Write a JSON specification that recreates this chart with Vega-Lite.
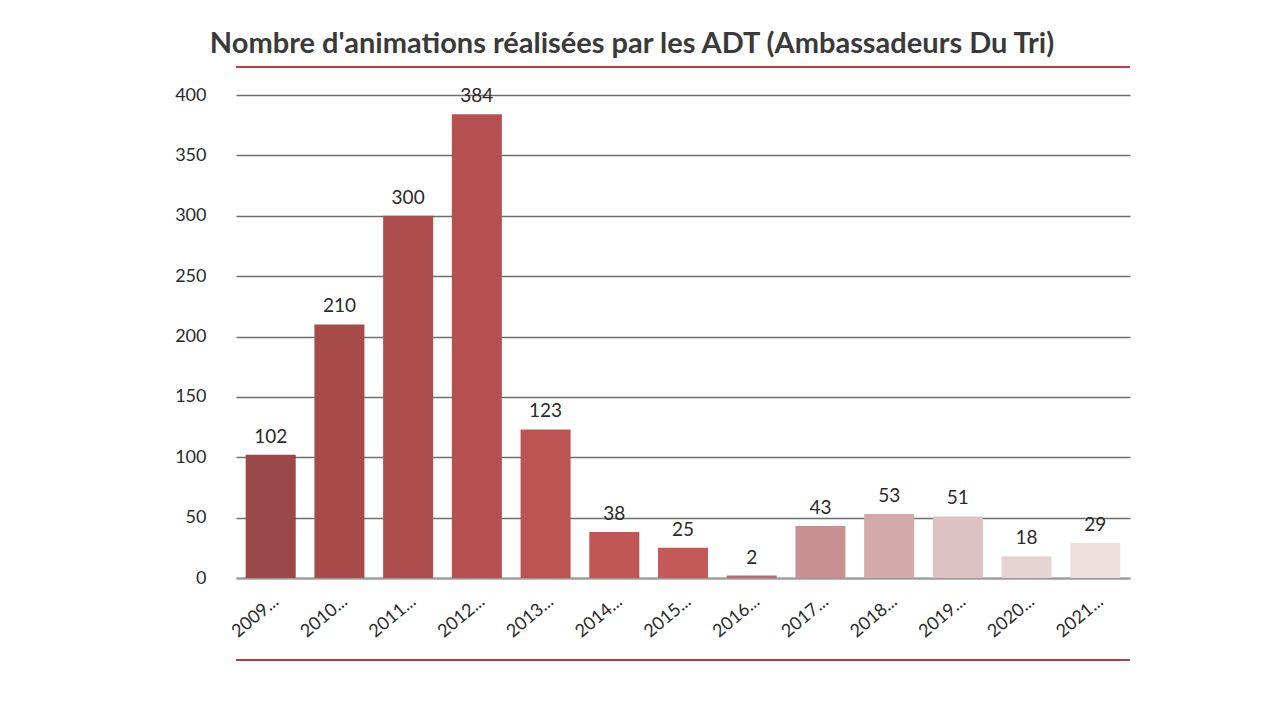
{
  "$schema": "https://vega.github.io/schema/vega-lite/v6.json",
  "width": 894,
  "height": 483,
  "autosize": {"type": "none"},
  "padding": {"left": 236, "top": 95, "right": 155, "bottom": 142},
  "background": "white",
  "title": {
    "text": "Nombre d'animations réalisées par les ADT (Ambassadeurs Du Tri)",
    "font": "Lato",
    "fontSize": 29,
    "fontWeight": "bold",
    "color": "#3a3a3a",
    "anchor": "middle",
    "offset": 7,
    "dx": -51
  },
  "config": {
    "view": {"stroke": null},
    "axis": {"labelFont": "Lato", "titleFont": "Lato"}
  },
  "data": {
    "values": [
      {"annee": "2009...", "n": 102},
      {"annee": "2010...", "n": 210},
      {"annee": "2011...", "n": 300},
      {"annee": "2012...", "n": 384},
      {"annee": "2013...", "n": 123},
      {"annee": "2014...", "n": 38},
      {"annee": "2015...", "n": 25},
      {"annee": "2016...", "n": 2},
      {"annee": "2017...", "n": 43},
      {"annee": "2018...", "n": 53},
      {"annee": "2019...", "n": 51},
      {"annee": "2020...", "n": 18},
      {"annee": "2021...", "n": 29}
    ]
  },
  "layer": [
    {
      "mark": {"type": "bar", "width": 50},
      "encoding": {
        "x": {
          "field": "annee",
          "type": "nominal",
          "sort": null,
          "scale": {"paddingInner": 0.27, "paddingOuter": 0.14},
          "axis": {
            "title": null,
            "labelAngle": -40,
            "labelFontSize": 18,
            "labelColor": "#2a2a2a",
            "labelPadding": 14,
            "ticks": false,
            "domainColor": "#999999",
            "domainWidth": 2
          }
        },
        "y": {
          "field": "n",
          "type": "quantitative",
          "scale": {"domain": [0, 400], "nice": false},
          "axis": {
            "title": null,
            "values": [0, 50, 100, 150, 200, 250, 300, 350, 400],
            "grid": true,
            "labelFontSize": 18,
            "labelColor": "#2a2a2a",
            "labelPadding": 30,
            "ticks": false,
            "domain": false,
            "gridColor": "#6e6e6e",
            "gridWidth": 1.3
          }
        },
        "color": {
          "field": "annee",
          "type": "nominal",
          "sort": null,
          "legend": null,
          "scale": {
            "range": ["#9a4848", "#a64a4a", "#ae4d4d", "#b65050", "#bc5353", "#c05656", "#c45959", "#c46868", "#c89090", "#d4a9a9", "#dcc2c2", "#e6d4d4", "#eedfdf"]
          }
        }
      }
    },
    {
      "mark": {"type": "text", "baseline": "bottom", "dy": -8, "font": "Lato", "fontSize": 19, "color": "#2a2a2a"},
      "encoding": {
        "x": {"field": "annee", "type": "nominal", "sort": null},
        "y": {"field": "n", "type": "quantitative"},
        "text": {"field": "n", "type": "quantitative"}
      }
    },
    {
      "mark": {"type": "rule", "color": "#c0393b", "strokeWidth": 1.5, "clip": false},
      "encoding": {"y": {"datum": 423, "type": "quantitative"}}
    },
    {
      "mark": {"type": "rule", "color": "#c0393b", "strokeWidth": 1.5, "clip": false},
      "encoding": {"y": {"datum": -68, "type": "quantitative"}}
    }
  ]
}
